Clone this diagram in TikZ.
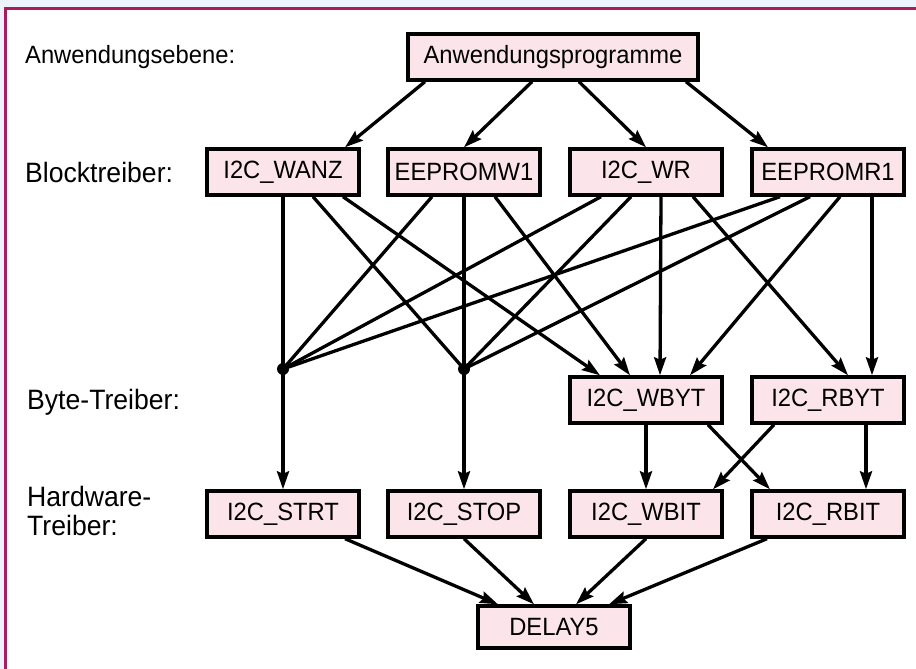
\documentclass[tikz,border=0pt]{standalone}
\usepackage{fontspec}
\setmainfont[FakeStretch=0.95]{Liberation Sans}
\usetikzlibrary{arrows.meta}
\definecolor{boxfill}{RGB}{252,229,234}
\definecolor{framecol}{RGB}{172,28,92}
\definecolor{outerbg}{RGB}{237,243,251}
\begin{document}
\begin{tikzpicture}[x=1pt,y=-1pt,
  every node/.style={font=\fontsize{25}{27}\selectfont},
  modbox/.style={draw=black,line width=3.4pt,fill=boxfill,minimum width=152pt,minimum height=46pt,inner sep=0pt},
  levellabel/.style={anchor=west,inner sep=0pt,align=left},
  biglabel/.style={levellabel,font=\fontsize{28}{29}\selectfont},
  link/.style={line width=3.3pt,-{Stealth[length=18pt,width=12pt,inset=2.5pt]}},
  plain/.style={line width=3.3pt},
  junction/.style={circle,fill=black,inner sep=0pt,minimum size=12pt}]
\useasboundingbox (0,0) rectangle (916,669);
% outer margin and frame
\fill[outerbg] (0,0) rectangle (916,7);
\fill[outerbg] (0,0) rectangle (4,669);
\draw[framecol,line width=3pt] (5.5,669) -- (5.5,8.5) -- (916,8.5);

% level labels
\node[levellabel] (l1) at (25,57) {Anwendungsebene:};
\node[biglabel] (l2) at (25,172) {Blocktreiber:};
\node[biglabel] (l3) at (27,402) {Byte-Treiber:};
\node[biglabel] (l4) at (27,511) {Hardware-\\Treiber:};

% modules
\node[modbox,minimum width=290pt] (ap) at (553,57) {Anwendungsprogramme};
\node[modbox] (wanz) at (283,172) {I2C\_WANZ};
\node[modbox] (eew)  at (464,172) {EEPROMW1};
\node[modbox] (wr)   at (646,172) {I2C\_WR};
\node[modbox] (eer)  at (828,172) {EEPROMR1};
\node[modbox] (wbyt) at (646,400) {I2C\_WBYT};
\node[modbox] (rbyt) at (828,400) {I2C\_RBYT};
\node[modbox] (strt) at (283,514) {I2C\_STRT};
\node[modbox] (stop) at (464,514) {I2C\_STOP};
\node[modbox] (wbit) at (646,514) {I2C\_WBIT};
\node[modbox] (rbit) at (828,514) {I2C\_RBIT};
\node[modbox,minimum height=42pt] (delay) at (554,627) {DELAY5};

% junction points
\node[junction] (d1) at (283,369) {};
\node[junction] (d2) at (464,369) {};

% application -> block drivers
\draw[link] ([xshift=-128pt]ap.south) -- ([xshift=62pt]wanz.north);
\draw[link] ([xshift=-21pt]ap.south) -- (eew.north);
\draw[link] ([xshift=26pt]ap.south) -- (wr.north);
\draw[link] ([xshift=133pt]ap.south) -- ([xshift=-60pt]eer.north);

% block drivers -> junctions
\draw[plain] (wanz.south) -- (d1.center);
\draw[plain] ([xshift=-32pt]eew.south) -- (d1.center);
\draw[plain] ([xshift=-45pt]wr.south) -- (d1.center);
\draw[plain] ([xshift=-48pt]eer.south) -- (d1.center);
\draw[plain] ([xshift=30pt]wanz.south) -- (d2.center);
\draw[plain] (eew.south) -- (d2.center);
\draw[plain] ([xshift=-15pt]wr.south) -- (d2.center);
\draw[plain] ([xshift=-18pt]eer.south) -- (d2.center);

% block drivers -> byte drivers
\draw[link] ([xshift=60pt]wanz.south) -- ([xshift=-46pt]wbyt.north);
\draw[link] ([xshift=31pt]eew.south) -- ([xshift=-16pt]wbyt.north);
\draw[link] ([xshift=15pt]wr.south) -- ([xshift=14pt]wbyt.north);
\draw[link] ([xshift=12pt]eer.south) -- ([xshift=44pt]wbyt.north);
\draw[link] ([xshift=47pt]wr.south) -- ([xshift=20pt]rbyt.north);
\draw[link] ([xshift=44pt]eer.south) -- ([xshift=44pt]rbyt.north);

% junctions -> hardware drivers
\draw[link] (d1.center) -- (strt.north);
\draw[link] (d2.center) -- (stop.north);

% byte drivers -> hardware drivers
\draw[link] (wbyt.south) -- (wbit.north);
\draw[link] ([xshift=62pt]wbyt.south) -- ([xshift=-58pt]rbit.north);
\draw[link] ([xshift=-54pt]rbyt.south) -- ([xshift=67pt]wbit.north);
\draw[link] ([xshift=38pt]rbyt.south) -- ([xshift=38pt]rbit.north);

% hardware drivers -> delay
\draw[link] ([xshift=62pt]strt.south) -- ([xshift=-56pt]delay.north);
\draw[link] (stop.south) -- ([xshift=-20pt]delay.north);
\draw[link] (wbit.south) -- ([xshift=22pt]delay.north);
\draw[link] ([xshift=-61pt]rbit.south) -- ([xshift=55pt]delay.north);
\end{tikzpicture}
\end{document}
